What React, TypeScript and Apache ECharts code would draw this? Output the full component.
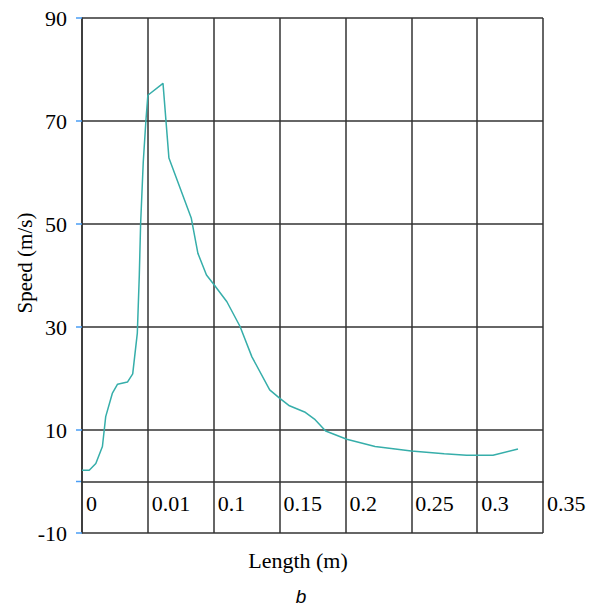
import React, { useEffect, useRef } from "react";
import * as echarts from "echarts";

// x positions are in axis-slot units: slot i sits at the i-th tick label
const tickLabels = ["0", "0.01", "0.1", "0.15", "0.2", "0.25", "0.3", "0.35"];
const xPos = [
  0.0, 0.11, 0.21, 0.31, 0.36, 0.46, 0.54, 0.69, 0.77, 0.84, 0.87, 0.89, 0.93, 0.97, 1.0,
  1.23, 1.32, 1.66, 1.76, 1.89, 2.0, 2.2, 2.4, 2.58, 2.85, 2.99, 3.15, 3.38, 3.54, 3.7,
  4.02, 4.45, 5.0, 5.5, 5.84, 6.24, 6.62,
];
const speed = [
  2.2, 2.2, 3.5, 6.8, 12.6, 17.1, 18.9, 19.3, 20.9, 28.8, 40, 50, 62, 70, 75.0,
  77.3, 62.8, 51.1, 44.3, 40.1, 38.3, 34.9, 30.1, 24.2, 17.8, 16.3, 14.7, 13.5, 12.0, 9.8,
  8.2, 6.8, 5.9, 5.4, 5.1, 5.1, 6.3,
];
const yTicks = { min: -10, max: 90, interval: 20 };

export default function App() {
  const ref = useRef<HTMLDivElement>(null);
  useEffect(() => {
    document.body.style.margin = "0";
    if (!ref.current) return;
    const chart = echarts.init(ref.current, undefined, { renderer: "svg" });
    const serif = "Liberation Serif";
    const gridColor = "#333";
    const texts: any[] = [
      {
        id: "yname",
        type: "text",
        x: 25,
        y: 263,
        rotation: Math.PI / 2,
        style: {
          text: "Speed (m/s)",
          font: `21px "${serif}"`,
          fill: "#000",
          align: "center",
          verticalAlign: "middle",
        },
      },
      {
        id: "xname",
        type: "text",
        x: 298,
        y: 560,
        style: {
          text: "Length (m)",
          font: `22px "${serif}"`,
          fill: "#000",
          align: "center",
          verticalAlign: "middle",
        },
      },
      {
        id: "panel",
        type: "text",
        x: 301,
        y: 596,
        style: {
          text: "b",
          font: `italic 19px "Liberation Sans"`,
          fill: "#000",
          align: "center",
          verticalAlign: "middle",
        },
      },
    ];
    chart.setOption({
      animation: false,
      grid: { left: 82, right: 57, top: 18, bottom: 72 },
      xAxis: {
        type: "value",
        min: 0,
        max: tickLabels.length - 1,
        interval: 1,
        offset: 0,
        axisLine: { onZero: false, lineStyle: { color: gridColor, width: 1.5 } },
        axisTick: { show: false },
        splitLine: { show: true, lineStyle: { color: gridColor, width: 1.5 } },
        axisLabel: {
          show: true,
          showMaxLabel: true,
          showMinLabel: true,
          formatter: (v: number) => tickLabels[Math.round(v)] ?? "",
          align: "left",
          verticalAlign: "middle",
          margin: 22,
          padding: [0, 0, 0, 4],
          fontFamily: serif,
          fontSize: 22,
          color: "#000",
        },
      },
      yAxis: {
        type: "value",
        min: yTicks.min,
        max: yTicks.max,
        interval: yTicks.interval,
        axisLine: { show: true, onZero: false, lineStyle: { color: gridColor, width: 1.5 } },
        axisTick: { show: true, length: 6, lineStyle: { color: "#4a9ef5", width: 1.5 } },
        splitLine: { show: true, lineStyle: { color: gridColor, width: 1.5 } },
        axisLabel: {
          margin: 15,
          fontFamily: serif,
          fontSize: 22,
          color: "#000",
        },
      },
      series: [
        {
          type: "line",
          data: xPos.map((x, i) => [x, speed[i]]),
          showSymbol: false,
          symbol: "none",
          lineStyle: { color: "#36aeaa", width: 1.5 },
        },
      ],
      graphic: texts,
    });
    // move the x axis (line + labels) up to y = 0, and add the blue tick there,
    // using the library's own scale
    const p0 = chart.convertToPixel({ gridIndex: 0 }, [0, 0]) as number[];
    const pMin = chart.convertToPixel({ gridIndex: 0 }, [0, yTicks.min]) as number[];
    if (p0 && pMin) {
      chart.setOption({
        xAxis: { offset: -(pMin[1] - p0[1]) },
        graphic: [
          ...texts,
          {
            id: "zeroTick",
            type: "line",
            shape: { x1: p0[0] - 6, y1: p0[1], x2: p0[0], y2: p0[1] },
            style: { stroke: "#4a9ef5", lineWidth: 1.5 },
          },
        ],
      });
    }
    return () => chart.dispose();
  }, []);
  return <div ref={ref} style={{ width: 600, height: 605 }} />;
}
